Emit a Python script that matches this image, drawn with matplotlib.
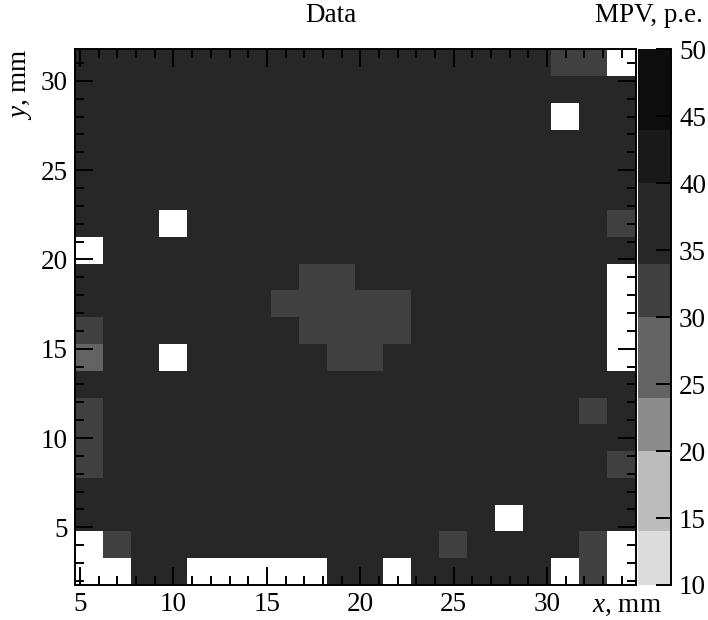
import numpy as np
import matplotlib
matplotlib.use("Agg")
import matplotlib.pyplot as plt
from matplotlib.colors import ListedColormap, BoundaryNorm

plt.rcParams["font.family"] = ["Liberation Serif", "DejaVu Serif"]
plt.rcParams["mathtext.fontset"] = "custom"
plt.rcParams["mathtext.rm"] = "Liberation Serif"
plt.rcParams["mathtext.it"] = "Liberation Serif:italic"

N = np.nan
# MPV per 1.5 mm cell, rows from top (y ~ 31) to bottom (y ~ 2), columns left to right
mpv = [
    [37, 37, 37, 37, 37, 37, 37, 37, 37, 37, 37, 37, 37, 37, 37, 37, 37, 32, 32, N],
    [37, 37, 37, 37, 37, 37, 37, 37, 37, 37, 37, 37, 37, 37, 37, 37, 37, 37, 37, 37],
    [37, 37, 37, 37, 37, 37, 37, 37, 37, 37, 37, 37, 37, 37, 37, 37, 37, N, 37, 37],
    [37, 37, 37, 37, 37, 37, 37, 37, 37, 37, 37, 37, 37, 37, 37, 37, 37, 37, 37, 37],
    [37, 37, 37, 37, 37, 37, 37, 37, 37, 37, 37, 37, 37, 37, 37, 37, 37, 37, 37, 37],
    [37, 37, 37, 37, 37, 37, 37, 37, 37, 37, 37, 37, 37, 37, 37, 37, 37, 37, 37, 37],
    [37, 37, 37, N, 37, 37, 37, 37, 37, 37, 37, 37, 37, 37, 37, 37, 37, 37, 37, 32],
    [N, 37, 37, 37, 37, 37, 37, 37, 37, 37, 37, 37, 37, 37, 37, 37, 37, 37, 37, 37],
    [37, 37, 37, 37, 37, 37, 37, 37, 32, 32, 37, 37, 37, 37, 37, 37, 37, 37, 37, N],
    [37, 37, 37, 37, 37, 37, 37, 32, 32, 32, 32, 32, 37, 37, 37, 37, 37, 37, 37, N],
    [32, 37, 37, 37, 37, 37, 37, 37, 32, 32, 32, 32, 37, 37, 37, 37, 37, 37, 37, N],
    [28, 37, 37, N, 37, 37, 37, 37, 37, 32, 32, 37, 37, 37, 37, 37, 37, 37, 37, N],
    [37, 37, 37, 37, 37, 37, 37, 37, 37, 37, 37, 37, 37, 37, 37, 37, 37, 37, 37, 37],
    [32, 37, 37, 37, 37, 37, 37, 37, 37, 37, 37, 37, 37, 37, 37, 37, 37, 37, 32, 37],
    [32, 37, 37, 37, 37, 37, 37, 37, 37, 37, 37, 37, 37, 37, 37, 37, 37, 37, 37, 37],
    [32, 37, 37, 37, 37, 37, 37, 37, 37, 37, 37, 37, 37, 37, 37, 37, 37, 37, 37, 32],
    [37, 37, 37, 37, 37, 37, 37, 37, 37, 37, 37, 37, 37, 37, 37, 37, 37, 37, 37, 37],
    [37, 37, 37, 37, 37, 37, 37, 37, 37, 37, 37, 37, 37, 37, 37, N, 37, 37, 37, 37],
    [N, 32, 37, 37, 37, 37, 37, 37, 37, 37, 37, 37, 37, 32, 37, 37, 37, 37, 32, N],
    [N, N, 37, 37, N, N, N, N, N, 37, 37, N, 37, 37, 37, 37, 37, N, 32, N],
]

x_start, y_start, bin_w, n_bins = 4.73, 1.77, 1.5, 20
levels = [10, 14, 20, 24, 30, 34, 40, 44, 50]
level_colors = ["#dcdcdc", "#bcbcbc", "#8c8c8c", "#636363",
                "#404040", "#272727", "#191919", "#0d0d0d"]
cbar_ticks = [10, 15, 20, 25, 30, 35, 40, 45, 50]

z = np.array(mpv, dtype=float)[::-1]
xe = x_start + bin_w * np.arange(n_bins + 1)
ye = y_start + bin_w * np.arange(n_bins + 1)

cmap = ListedColormap(level_colors)
norm = BoundaryNorm(levels, cmap.N)

fig = plt.figure(figsize=(7.08, 6.2), dpi=100)
ax = fig.add_axes([75 / 708, 35 / 620, 560.5 / 708, 535.7 / 620])
cax = fig.add_axes([638.3 / 708, 35 / 620, 32.4 / 708, 535.7 / 620])

mesh = ax.pcolormesh(xe, ye, np.ma.masked_invalid(z), cmap=cmap, norm=norm)
ax.set_xlim(xe[0], xe[-1])
ax.set_ylim(ye[0], ye[-1])

fs = 19.5
ax.set_xticks([5, 10, 15, 20, 25, 30])
ax.set_yticks([5, 10, 15, 20, 25, 30])
ax.set_xticks(np.arange(5, 35), minor=True)
ax.set_yticks(np.arange(2, 32), minor=True)
ax.tick_params(which="both", direction="in", top=True, right=True, width=1.4,
               labelsize=fs)
ax.tick_params(which="major", length=13, pad=5)
ax.tick_params(which="minor", length=6.5)
for s in ax.spines.values():
    s.set_linewidth(1.4)

cb = fig.colorbar(mesh, cax=cax, ticks=cbar_ticks, spacing="proportional")
cb.outline.set_visible(False)
cax.plot([1, 1], [0, 1], transform=cax.transAxes, color="k", lw=1.4, clip_on=False)
cax.yaxis.set_ticks_position("right")
cax.tick_params(direction="in", length=11, width=1.4, labelsize=fs, pad=6)
cax.minorticks_off()

fig.text(331 / 708, 1 - 16 / 620, "Data", ha="center", va="center", fontsize=fs)
fig.text(703 / 708, 1 - 16 / 620, "MPV, p.e.", ha="right", va="center", fontsize=fs)
fig.text(662 / 708, 1 - 605 / 620, "$x$, mm", ha="right", va="center", fontsize=fs)
fig.text(22 / 708, 1 - 48 / 620, "$y$, mm", ha="center", va="top", rotation=90,
         fontsize=fs)

fig.savefig("out.png", dpi=100)
